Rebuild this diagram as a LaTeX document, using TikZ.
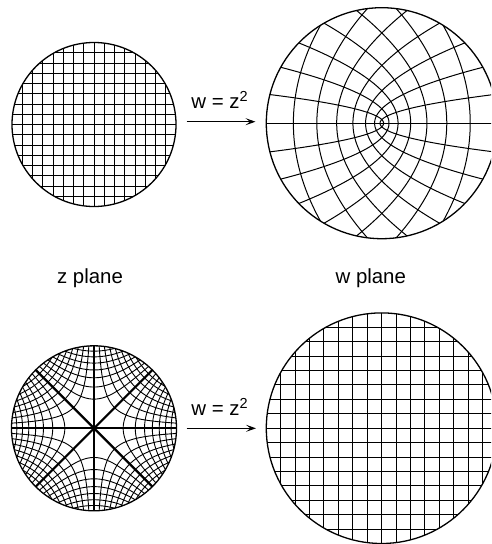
\documentclass[tikz,border=0pt]{standalone}
\usepackage{fontspec}
\setmainfont{Liberation Sans}
\usetikzlibrary{arrows.meta}
\newcommand{\supsq}{\raisebox{7pt}{\fontsize{14.5}{14.5}\selectfont 2}}
\begin{document}
\begin{tikzpicture}[x=1pt,y=-1pt,
  gridline/.style={line width=1pt},
  thingrid/.style={line width=0.9pt},
  rim/.style={circle,draw,line width=1.3pt,inner sep=0pt},
  axisline/.style={line width=2.2pt},
  lbl/.style={font=\fontsize{20.4}{24}\selectfont, anchor=base, inner sep=0pt},
  maparrow/.style={line width=1pt, -{Stealth[length=10pt,width=7pt,inset=4.5pt]}}]
\useasboundingbox (0,0) rectangle (491,544);
\clip (0,0) rectangle (491,544);

% ---- top left: z plane grid ----
\begin{scope}[shift={(94,124.5)}]
  \clip (0,0) circle[radius=82];
  \foreach \k in {-7,...,7} {
    \draw[gridline] (\k*10.25,-82) -- (\k*10.25,82);
    \draw[gridline] (-82,\k*10.25) -- (82,\k*10.25);
  }
\end{scope}
\node[rim, minimum size=164pt] (zdisk) at (94,124.5) {};

% ---- top right: image of grid under w=z^2 ----
\begin{scope}[shift={(381.8,123.2)}, scale=115.5]
  \foreach \k in {1,...,7} {
    \pgfmathsetmacro\myc{\k/8}
    \pgfmathsetmacro\mya{sqrt(1-\myc*\myc)}
    \draw[gridline] plot[domain=-\mya:\mya, samples=60, smooth, variable=\t] ({\myc*\myc-\t*\t},{2*\myc*\t});
    \draw[gridline] plot[domain=-\mya:\mya, samples=60, smooth, variable=\t] ({\t*\t-\myc*\myc},{2*\myc*\t});
  }
  \draw[gridline] (-1,0) -- (1,0);
\end{scope}
\node[rim, minimum size=231pt] (wdisk) at (381.8,123.2) {};

% ---- arrow top ----
\coordinate (a1s) at (186.7,121.7);
\coordinate (a1e) at (255.5,121.7);
\draw[maparrow] (a1s) -- (a1e);
\node[lbl] (map1) at (219.5,108) {w = z\supsq};

% ---- labels ----
\node[lbl] (zlab) at (90,283.3) {z plane};
\node[lbl] (wlab) at (370.8,283.3) {w plane};

% ---- bottom left: preimage of grid ----
\begin{scope}[shift={(94,428.3)}, scale=82.5]
  \foreach \k in {1,...,7} {
    \pgfmathsetmacro\mya{\k/8}
    \pgfmathsetmacro\myT{ln(1/\mya+sqrt(1/(\mya*\mya)-1))/2}
    \pgfmathsetmacro\myr{sqrt(\mya)}
    \foreach \ang in {0,45,...,315} {
      \draw[thingrid, rotate=\ang] plot[domain=-\myT:\myT, samples=40, smooth, variable=\t] ({\myr*cosh(\t)},{\myr*sinh(\t)});
    }
  }
  \foreach \ang in {0,45,90,135} \draw[axisline, rotate=\ang] (-1,0) -- (1,0);
\end{scope}
\node[rim, minimum size=165pt] (zdisk2) at (94,428.3) {};

% ---- bottom right: w plane grid ----
\begin{scope}[shift={(381.6,428.2)}]
  \clip (0,0) circle[radius=115.3];
  \foreach \k in {-7,...,7} {
    \draw[gridline] (\k*14.41,-116) -- (\k*14.41,116);
    \draw[gridline] (-116,\k*14.41) -- (116,\k*14.41);
  }
\end{scope}
\node[rim, minimum size=230.6pt] (wdisk2) at (381.6,428.2) {};

% ---- arrow bottom ----
\coordinate (a2s) at (186.7,428.3);
\coordinate (a2e) at (256,428.3);
\draw[maparrow] (a2s) -- (a2e);
\node[lbl] (map2) at (219.5,415.7) {w = z\supsq};
\end{tikzpicture}
\end{document}
